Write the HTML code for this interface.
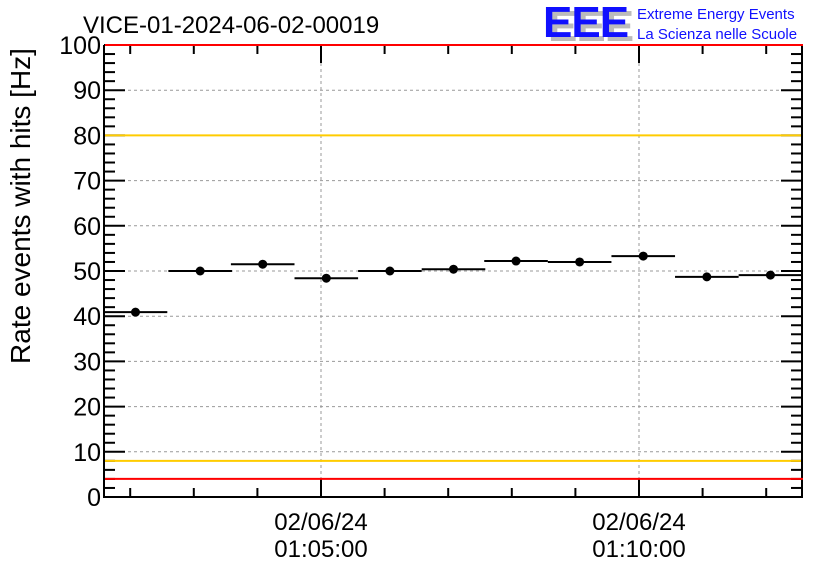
<!DOCTYPE html>
<html><head><meta charset="utf-8"><style>
body{margin:0;background:#fff;width:836px;height:572px;overflow:hidden;font-family:"Liberation Sans",sans-serif}
</style></head><body>
<svg id="c" width="836" height="572" xmlns="http://www.w3.org/2000/svg" font-family="Liberation Sans, sans-serif">
<text x="83" y="33" font-size="24" fill="#000">VICE-01-2024-06-02-00019</text>
<g>
<text x="548" y="41" font-size="44" font-weight="bold" fill="#bbb" letter-spacing="-1">EEE</text>
<text x="543" y="37" font-size="44" font-weight="bold" fill="#1010ff" letter-spacing="-1">EEE</text>
<text x="637" y="19" font-size="15" fill="#1010ff">Extreme Energy Events</text>
<text x="637" y="39" font-size="15" fill="#1010ff">La Scienza nelle Scuole</text>
</g>
<text transform="translate(30,206) rotate(-90)" text-anchor="middle" font-size="28">Rate events with hits [Hz]</text>
<g id="grid"></g><g id="axes"></g><g id="lines"></g><g id="data"></g>
</svg>
<script>
const binSeconds=[125,186,245,305,365,425,484,544,604,664,724];
const rates=[40.9,50.0,51.5,48.4,50.0,50.4,52.2,52.0,53.3,48.7,49.1];
const yTicks=[0,10,20,30,40,50,60,70,80,90,100];
const xMajorSeconds=[300,600];
const xMajorDates=["02/06/24","02/06/24"];
const xMajorTimes=["01:05:00","01:10:00"];
const thresholdsOrange=[80,8];
const thresholdsRed=[100,4];
const binWidth=60;
const L=104,R=802,T=45,B=497;
const X=s=>321+(s-300)/60*63.6;
const Y=v=>B-(v/100)*(B-T);
const NS="http://www.w3.org/2000/svg";
function mk(p,tag,a){const e=document.createElementNS(NS,tag);for(const k in a)e.setAttribute(k,a[k]);document.getElementById(p).appendChild(e);return e;}
yTicks.forEach(v=>{if(v>0&&v<100){const g=mk('grid','line',{x1:L,x2:R,y1:Y(v),y2:Y(v),stroke:'#999','stroke-dasharray':'3,3'});

}});
xMajorSeconds.forEach(s=>{const g=mk('grid','line',{x1:X(s),x2:X(s),y1:T,y2:B,stroke:'#999','stroke-dasharray':'3,3'});

});
const ax=mk('axes','path',{d:`M${L},${T} L${L},${B} L${R},${B} L${R},${T}`,stroke:'#000','stroke-width':2,fill:'none'});


for(let v=0;v<=100;v+=2){const maj=v%10===0;const len=maj?21:11;
mk('axes','line',{x1:L,x2:L+len,y1:Y(v),y2:Y(v),stroke:'#000','stroke-width':2});
mk('axes','line',{x1:R,x2:R-len,y1:Y(v),y2:Y(v),stroke:'#000','stroke-width':2});}
yTicks.forEach(v=>{const t=mk('axes','text',{x:L-3,y:Y(v)+9,'text-anchor':'end','font-size':25});t.textContent=v;

});
for(let s=120;s<=780;s+=60){const x=X(s);if(x<L||x>R)continue;const maj=xMajorSeconds.includes(s);const len=maj?18:9;
mk('axes','line',{x1:x,x2:x,y1:B,y2:B-len,stroke:'#000','stroke-width':2});
mk('axes','line',{x1:x,x2:x,y1:T,y2:T+len,stroke:'#000','stroke-width':2});}
xMajorSeconds.forEach((s,i)=>{
const a=mk('axes','text',{x:X(s),y:530,'text-anchor':'middle','font-size':24});a.textContent=xMajorDates[i];


const b=mk('axes','text',{x:X(s),y:557,'text-anchor':'middle','font-size':24});b.textContent=xMajorTimes[i];

});
thresholdsOrange.forEach(v=>{const l=mk('lines','line',{x1:L+1,x2:R-1,y1:Y(v),y2:Y(v),stroke:'#ffcc00','stroke-width':2});

});
thresholdsRed.forEach(v=>{const l=mk('lines','line',{x1:L+1,x2:R+1,y1:Y(v),y2:Y(v),stroke:'#ff0000','stroke-width':2});

});
binSeconds.forEach((s,i)=>{
const x1=Math.max(L,X(s-binWidth/2)),x2=Math.min(R,X(s+binWidth/2));
const b=mk('data','line',{x1:x1,x2:x2,y1:Y(rates[i]),y2:Y(rates[i]),stroke:'#000','stroke-width':2});


const c=mk('data','circle',{cx:X(s),cy:Y(rates[i]),r:4.5,fill:'#000'});


});
</script>
</body></html>
